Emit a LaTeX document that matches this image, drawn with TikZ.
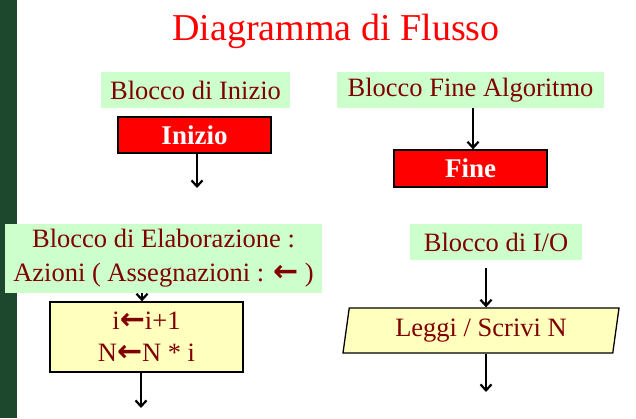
\documentclass[tikz,border=0pt]{standalone}
\usepackage{fontspec}
\setmainfont{Liberation Serif}
\newfontfamily\symfont{DejaVu Sans}
\usetikzlibrary{shapes.geometric,arrows.meta}
\definecolor{stripgreen}{RGB}{30,72,46}
\definecolor{lblgreen}{RGB}{204,255,204}
\definecolor{procyellow}{RGB}{255,255,190}
\definecolor{darkred}{RGB}{128,0,0}
\newcommand{\asgn}{{\symfont\bfseries\fontsize{30}{32}\selectfont ←}}
\begin{document}
\begin{tikzpicture}[x=1pt,y=-1pt,
    lbl/.style={fill=lblgreen,text=darkred,inner sep=0pt,font=\fontsize{26.5}{34}\selectfont},
    term/.style={draw=black,line width=1.3pt,fill=red,text=white,inner sep=0pt,
        minimum width=153pt,minimum height=36pt,font=\bfseries\fontsize{27}{28}\selectfont},
    proc/.style={draw=black,line width=1.3pt,fill=procyellow,text=darkred,inner sep=0pt,
        font=\fontsize{26.5}{32}\selectfont},
    flow/.style={line width=2.2pt,-{Straight Barb[length=6pt,width=11pt,line width=2.2pt]}}]
    \useasboundingbox (0,0) rectangle (636,418);
    \fill[stripgreen] (0,0) rectangle (17,418);
    \node[text=red,font=\fontsize{38}{42}\selectfont] (title) at (336,31) {Diagramma di Flusso};
    % start / end
    \node[lbl,minimum width=189pt,minimum height=36pt] (lblInizio) at (195.5,90) {Blocco di Inizio};
    \node[term] (inizio) at (194.5,135) {Inizio};
    \coordinate (outInizio) at (197,188);
    \draw[flow] (inizio.south -| outInizio) -- (outInizio);
    \node[lbl,minimum width=267pt,minimum height=36pt] (lblFine) at (470.5,90) {Blocco Fine Algoritmo};
    \node[term,minimum height=37pt] (fine) at (470.5,168.5) {Fine};
    \draw[flow] ([xshift=2.5pt]lblFine.south) -- ([xshift=2.5pt]fine.north);
    % processing
    \node[proc,align=center,minimum width=193pt,minimum height=70pt] (elab) at (146.5,337)
        {i\asgn i+1\\ N\asgn N * i};
    \draw[flow] ([xshift=-4.5pt]elab.north) ++(0,-20) -- ([xshift=-4.5pt]elab.north);
    \node[lbl,align=center,minimum width=317pt,minimum height=69pt] (lblElab) at (163.5,258.5)
        {Blocco di Elaborazione :\\ Azioni ( Assegnazioni : \asgn{} )};
    \coordinate (outElab) at (141,408);
    \draw[flow] (elab.south -| outElab) -- (outElab);
    % input / output
    \node[lbl,minimum width=172pt,minimum height=36pt] (lblIO) at (496,242) {Blocco di I/O};
    \node[proc,trapezium,trapezium left angle=75,trapezium right angle=105,
        trapezium stretches body,minimum width=276pt,minimum height=45pt] (io) at (481,330.5)
        {Leggi / Scrivi N};
    \coordinate (outIO) at (486,392);
    \draw[flow,shorten <=8pt] (lblIO.south -| outIO) -- (io.north -| outIO);
    \draw[flow] (io.south -| outIO) -- (outIO);
\end{tikzpicture}
\end{document}
